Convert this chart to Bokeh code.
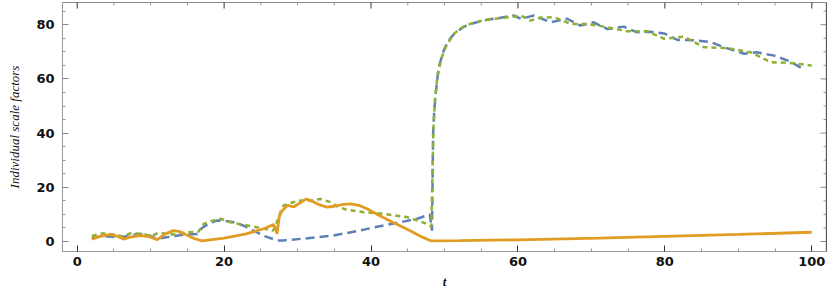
import math
from bokeh.plotting import figure
from bokeh.models import LinearAxis, FixedTicker, Span
from bokeh.embed import file_html
from bokeh.resources import INLINE

# ---- data ----
t_blue = [2.0, 3.2, 4.5, 6.0, 7.5, 8.6, 9.8, 10.9, 12.0, 12.7, 14.5, 16.3, 17.0, 18.0, 19.0, 20.2,
          21.3, 22.5, 24.0, 25.5, 27.2, 28.1, 31.0, 34.9, 38.0, 41.7, 44.0, 46.3, 48.0, 48.3,
          48.45, 48.6, 48.8, 49.2, 49.9, 50.5, 51.3, 52.5, 53.5, 55.8, 57.5, 59.4, 60.4, 62.2,
          64.4, 66.7, 68.5, 70.3, 72.2, 74.4, 76.2, 78.0, 79.9, 81.7, 84.0, 86.2, 88.0, 90.8,
          92.5, 94.9, 97.0, 99.0]
v_blue = [1.2, 1.9, 1.8, 1.5, 2.4, 2.8, 2.2, 1.0, 1.5, 1.8, 2.5, 2.8, 5.0, 6.8, 7.7, 7.6,
          7.1, 6.0, 4.0, 2.0, 0.4, 0.4, 1.1, 2.2, 3.8, 5.9, 7.1, 8.4, 10.0, 4.0,
          39.7, 48.0, 54.5, 64.3, 70.5, 74.0, 76.6, 79.0, 80.3, 81.8, 82.5, 83.4, 82.2, 83.4,
          80.9, 82.2, 79.7, 80.9, 78.4, 79.3, 77.2, 77.4, 76.8, 74.4, 74.3, 73.6, 71.7, 69.3,
          69.8, 68.6, 66.5, 63.4]

t_green = [2.0, 3.4, 5.0, 6.3, 7.2, 9.0, 10.0, 11.1, 13.0, 14.9, 16.5, 17.2, 18.3, 19.5, 20.5,
           21.3, 23.0, 25.0, 26.7, 27.3, 27.7, 28.1, 29.0, 30.4, 31.5, 33.1, 34.5, 35.5, 36.7,
           39.0, 41.7, 44.9, 46.5, 47.6, 48.2, 48.4, 48.5, 48.7, 49.0, 49.5, 50.2, 51.2, 52.5,
           54.0, 56.0, 58.0, 60.4, 61.7, 63.0, 64.9, 67.2, 69.4, 71.7, 74.9, 77.6, 79.9, 82.6,
           85.3, 88.5, 91.7, 94.4, 97.6, 100.0]
v_green = [2.0, 3.0, 2.6, 1.8, 3.0, 2.8, 2.0, 3.2, 2.6, 3.4, 3.6, 6.5, 7.6, 8.4, 7.4,
           6.8, 6.0, 5.0, 4.0, 8.0, 11.0, 13.3, 14.2, 15.1, 15.0, 15.7, 14.5, 12.8, 11.7,
           10.8, 10.2, 9.0, 7.6, 6.5, 5.5, 30.0, 42.0, 52.0, 60.0, 67.0, 72.0, 76.5, 79.2,
           80.8, 82.0, 82.5, 83.4, 81.5, 82.6, 82.8, 80.3, 80.3, 79.3, 77.6, 77.6, 74.8, 75.6,
           71.7, 71.4, 69.8, 66.2, 65.8, 64.9]

t_orange = [2.0, 3.0, 4.5, 5.5, 6.3, 7.2, 8.6, 9.8, 10.9, 12.0, 13.1, 14.0, 14.9, 16.0, 17.0,
            20.0, 23.0, 25.5, 26.7, 27.0, 27.2, 27.5, 27.8, 28.6, 29.5, 30.2, 31.2, 32.2, 33.0,
            34.0, 35.0, 36.0, 37.2, 38.5, 39.5, 41.0, 43.0, 45.0, 47.0, 48.2, 52.0, 60.0, 71.0,
            80.0, 90.0, 100.0]
v_orange = [0.8, 1.8, 2.6, 1.9, 0.9, 1.6, 2.2, 1.8, 0.7, 2.8, 4.0, 3.6, 2.4, 1.0, 0.2,
            1.2, 2.8, 4.8, 6.3, 5.0, 2.8, 9.0, 11.0, 13.3, 12.8, 14.0, 15.7, 14.6, 13.5,
            12.7, 13.0, 13.6, 13.9, 13.2, 12.0, 9.8, 7.0, 4.4, 1.6, 0.2, 0.3, 0.6, 1.2,
            1.9, 2.6, 3.4]

x_major = [0, 20, 40, 60, 80, 100]
x_minor = [v for v in range(0, 101, 5) if v % 20 != 0]
y_major = [0, 20, 40, 60, 80]
y_minor = [v for v in range(0, 86, 5) if v % 20 != 0]

X_RANGE = (-2, 102)
Y_RANGE = (-3.7, 88.2)

BLUE = "#5E81B5"
ORANGE = "#E19C24"
GREEN = "#8FB032"

p = figure(width=830, height=291, x_range=X_RANGE, y_range=Y_RANGE,
           output_backend="svg", toolbar_location=None,
           x_axis_location=None, y_axis_location=None,
           min_border_left=62, min_border_right=4, min_border_top=2, min_border_bottom=40)
p.grid.visible = False
p.outline_line_color = "#8a8a8a"
p.background_fill_color = "white"


def make_axis(ticks, minor, tick_color):
    ax = LinearAxis(ticker=FixedTicker(ticks=ticks, minor_ticks=minor))
    ax.axis_line_color = "#999999"
    ax.major_tick_in = 6
    ax.major_tick_out = 0
    ax.minor_tick_in = 3
    ax.minor_tick_out = 0
    ax.major_tick_line_color = tick_color
    ax.minor_tick_line_color = "#9a9a9a"
    ax.major_label_text_font = "DejaVu Sans"
    ax.major_label_text_font_style = "bold"
    ax.major_label_text_font_size = "13px"
    ax.major_label_text_color = "#111111"
    return ax


left = make_axis(y_major, y_minor, "#888888")
left.major_label_standoff = 8
left.axis_label = "Individual scale factors"
left.axis_label_text_font = "Liberation Serif"
left.axis_label_text_font_style = "italic"
left.axis_label_text_font_size = "13px"
left.axis_label_text_color = "#111111"
left.axis_label_standoff = 11
p.add_layout(left, "left")

bottom = make_axis(x_major, x_minor, "#333333")
bottom.major_label_standoff = 5
bottom.axis_label = "t"
bottom.axis_label_text_font = "Liberation Serif"
bottom.axis_label_text_font_style = "bold italic"
bottom.axis_label_text_font_size = "13px"
bottom.axis_label_text_color = "#111111"
bottom.axis_label_standoff = 5
p.add_layout(bottom, "below")

# frame ticks on the top and right edges (Mathematica-style frame)
p.ray(x=x_major, y=[Y_RANGE[1]] * len(x_major), length=6, length_units="screen",
      angle=-math.pi / 2, line_color="#333333", line_width=1)
p.ray(x=x_minor, y=[Y_RANGE[1]] * len(x_minor), length=3, length_units="screen",
      angle=-math.pi / 2, line_color="#9a9a9a", line_width=1)
p.ray(x=[X_RANGE[1]] * len(y_major), y=y_major, length=6, length_units="screen",
      angle=math.pi, line_color="#888888", line_width=1)
p.ray(x=[X_RANGE[1]] * len(y_minor), y=y_minor, length=3, length_units="screen",
      angle=math.pi, line_color="#9a9a9a", line_width=1)
p.add_layout(Span(location=X_RANGE[1], dimension="height", line_color="#222222", line_width=1.2))

p.line(t_blue, v_blue, line_color=BLUE, line_width=2.5, line_dash="9 5")
p.line(t_green, v_green, line_color=GREEN, line_width=2.5, line_dash="5 4")
p.line(t_orange, v_orange, line_color=ORANGE, line_width=2.8)

open("out.html", "w").write(file_html(p, INLINE))
